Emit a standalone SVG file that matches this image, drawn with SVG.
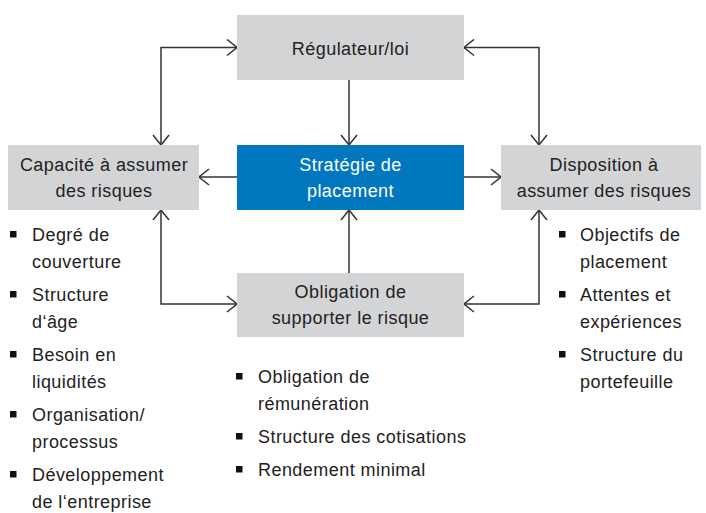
<svg xmlns="http://www.w3.org/2000/svg" width="706" height="513" viewBox="0 0 706 513">
<style>
text{font-family:"Liberation Sans",Arial,sans-serif;font-size:18px;letter-spacing:0.45px;fill:#222}
.box{fill:#d3d4d6}
.blue{fill:#0077bf}
.wt{fill:#fff}
.c{text-anchor:middle}
.con{fill:none;stroke:#333;stroke-width:1.5}
.bul{fill:#111}
</style>
<defs>
<marker id="ar" viewBox="-11 -9 12 18" markerWidth="12" markerHeight="18" refX="0" refY="0" orient="auto-start-reverse" markerUnits="userSpaceOnUse">
<path d="M-10,-8 L0,0 L-10,8" fill="none" stroke="#333" stroke-width="1.5"/>
</marker>
</defs>
<g id="connectors">
<path class="con" d="M349,80 V145" marker-end="url(#ar)"/>
<path class="con" d="M237,47.5 H161 V145" marker-start="url(#ar)" marker-end="url(#ar)"/>
<path class="con" d="M464,47.5 H539 V145" marker-start="url(#ar)" marker-end="url(#ar)"/>
<path class="con" d="M237,177 H199" marker-end="url(#ar)"/>
<path class="con" d="M464,177 H501" marker-end="url(#ar)"/>
<path class="con" d="M349,273 V210" marker-end="url(#ar)"/>
<path class="con" d="M161,210 V304 H237" marker-start="url(#ar)" marker-end="url(#ar)"/>
<path class="con" d="M539,210 V304 H464" marker-start="url(#ar)" marker-end="url(#ar)"/>
</g>
<g id="regulateur">
<rect class="box" x="237" y="15" width="227" height="65"/>
<text class="c" x="350.5" y="55">Régulateur/loi</text>
</g>
<g id="strategie">
<rect class="blue" x="237" y="145" width="227" height="65"/>
<text class="c wt" x="350.5" y="171">Stratégie de</text>
<text class="c wt" x="350.5" y="197">placement</text>
</g>
<g id="capacite">
<rect class="box" x="8" y="145" width="191" height="65"/>
<text class="c" x="104" y="171">Capacité à assumer</text>
<text class="c" x="104" y="197">des risques</text>
</g>
<g id="disposition">
<rect class="box" x="501" y="145" width="200" height="65"/>
<text class="c" x="604" y="171">Disposition à</text>
<text class="c" x="604" y="197">assumer des risques</text>
</g>
<g id="obligation">
<rect class="box" x="237" y="273" width="227" height="64"/>
<text class="c" x="350.5" y="298">Obligation de</text>
<text class="c" x="350.5" y="324">supporter le risque</text>
</g>
<g id="list-capacite">
<rect class="bul" x="10" y="231" width="6.5" height="6.5"/>
<text x="32" y="241">Degré de</text>
<text x="32" y="268">couverture</text>
<rect class="bul" x="10" y="291" width="6.5" height="6.5"/>
<text x="32" y="301">Structure</text>
<text x="32" y="328">d‘âge</text>
<rect class="bul" x="10" y="351" width="6.5" height="6.5"/>
<text x="32" y="361">Besoin en</text>
<text x="32" y="388">liquidités</text>
<rect class="bul" x="10" y="411" width="6.5" height="6.5"/>
<text x="32" y="421">Organisation/</text>
<text x="32" y="448">processus</text>
<rect class="bul" x="10" y="471" width="6.5" height="6.5"/>
<text x="32" y="481">Développement</text>
<text x="32" y="508">de l‘entreprise</text>
</g>
<g id="list-obligation">
<rect class="bul" x="236" y="373" width="6.5" height="6.5"/>
<text x="258" y="383">Obligation de</text>
<text x="258" y="410">rémunération</text>
<rect class="bul" x="236" y="433" width="6.5" height="6.5"/>
<text x="258" y="443">Structure des cotisations</text>
<rect class="bul" x="236" y="466" width="6.5" height="6.5"/>
<text x="258" y="476">Rendement minimal</text>
</g>
<g id="list-disposition">
<rect class="bul" x="559" y="231" width="6.5" height="6.5"/>
<text x="580" y="241">Objectifs de</text>
<text x="580" y="268">placement</text>
<rect class="bul" x="559" y="291" width="6.5" height="6.5"/>
<text x="580" y="301">Attentes et</text>
<text x="580" y="328">expériences</text>
<rect class="bul" x="559" y="351" width="6.5" height="6.5"/>
<text x="580" y="361">Structure du</text>
<text x="580" y="388">portefeuille</text>
</g>
</svg>
